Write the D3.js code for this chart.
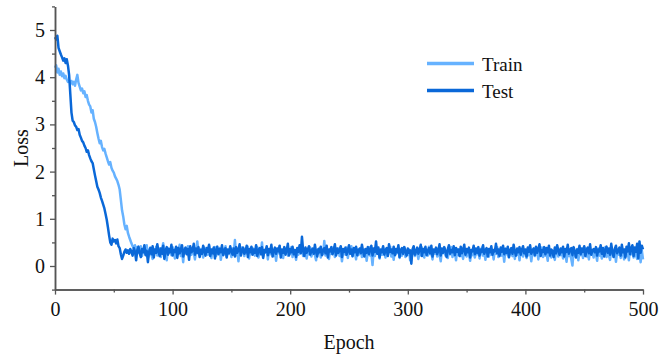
<!DOCTYPE html>
<html>
<head>
<meta charset="utf-8">
<script src="https://cdn.jsdelivr.net/npm/d3@7"></script>
<style>
  body { margin: 0; background: #fff; }
  text { font-family: "Liberation Serif", "Times New Roman", serif; fill: #111; }
</style>
</head>
<body>
<div id="container"></div>
<script>
// loss per epoch, index = epoch (0..500)
const trainLoss = [
  4.20, 4.25, 4.10, 4.18, 4.05, 4.12, 4.02, 4.08, 3.98, 4.03,
  3.95, 3.90, 3.93, 3.87, 3.92, 3.85, 3.90, 3.82, 3.95, 4.05,
  3.88, 3.80, 3.72, 3.76, 3.66, 3.70, 3.58, 3.62, 3.50, 3.42,
  3.38, 3.25, 3.30, 3.12, 3.05, 2.95, 2.82, 2.70, 2.60, 2.65,
  2.52, 2.45, 2.48, 2.38, 2.30, 2.22, 2.15, 2.20, 2.08, 2.02,
  1.98, 1.90, 1.85, 1.80, 1.72, 1.62, 1.40, 1.18, 1.05, 0.88,
  0.78, 0.85, 0.70, 0.62, 0.55, 0.48, 0.42, 0.38, 0.44, 0.35,
  0.40, 0.28, 0.33, 0.42, 0.21, 0.36, 0.30, 0.25, 0.44, 0.18,
  0.32, 0.39, 0.24, 0.15, 0.35, 0.28, 0.41, 0.22, 0.30, 0.37,
  0.19, 0.34, 0.48, 0.26, 0.31, 0.12, 0.38, 0.27, 0.33, 0.23,
  0.40, 0.29, 0.16, 0.36, 0.25, 0.32, 0.45, 0.21, 0.34, 0.08,
  0.37, 0.27, 0.31, 0.42, 0.20, 0.35, 0.24, 0.38, 0.29, 0.14,
  0.33, 0.52, 0.26, 0.22, 0.36, 0.30, 0.18, 0.39, 0.28, 0.34,
  0.24, 0.43, 0.31, 0.17, 0.35, 0.27, 0.40, 0.21, 0.33, 0.29,
  0.38, 0.13, 0.30, 0.36, 0.25, 0.42, 0.20, 0.34, 0.27, 0.31,
  0.19, 0.37, 0.28, 0.55, 0.23, 0.32, 0.10, 0.35, 0.26, 0.39,
  0.30, 0.21, 0.36, 0.27, 0.41, 0.16, 0.33, 0.25, 0.38, 0.29,
  0.22, 0.35, 0.40, 0.18, 0.31, 0.26, 0.50, 0.20, 0.34, 0.28,
  0.37, 0.14, 0.32, 0.25, 0.39, 0.29, 0.21, 0.36, 0.11, 0.33,
  0.27, 0.42, 0.24, 0.30, 0.17, 0.35, 0.28, 0.38, 0.22, 0.31,
  0.26, 0.40, 0.19, 0.34, 0.29, 0.13, 0.37, 0.24, 0.32, 0.27,
  0.41, 0.21, 0.35, 0.28, 0.16, 0.33, 0.25, 0.39, 0.20, 0.30,
  0.36, 0.23, 0.12, 0.34, 0.27, 0.38, 0.18, 0.31, 0.25, 0.53,
  0.22, 0.33, 0.28, 0.15, 0.36, 0.26, 0.30, 0.40, 0.19, 0.32,
  0.27, 0.37, 0.21, 0.34, 0.10, 0.29, 0.35, 0.24, 0.39, 0.17,
  0.31, 0.26, 0.42, 0.20, 0.33, 0.28, 0.14, 0.36, 0.23, 0.30,
  0.38, 0.19, 0.32, 0.25, 0.35, 0.11, 0.29, 0.40, 0.22, 0.27,
  0.02, 0.34, 0.21, 0.37, 0.26, 0.31, 0.16, 0.33, 0.24, 0.39,
  0.28, 0.18, 0.35, 0.23, 0.30, 0.41, 0.20, 0.32, 0.13, 0.36,
  0.25, 0.29, 0.38, 0.17, 0.33, 0.22, 0.27, 0.40, 0.19, 0.31,
  0.24, 0.35, 0.12, 0.30, 0.26, 0.37, 0.21, 0.34, 0.28, 0.15,
  0.32, 0.23, 0.39, 0.27, 0.18, 0.35, 0.30, 0.22, 0.41, 0.25,
  0.29, 0.14, 0.33, 0.26, 0.37, 0.20, 0.31, 0.24, 0.10, 0.35,
  0.27, 0.38, 0.22, 0.30, 0.17, 0.34, 0.25, 0.40, 0.19, 0.28,
  0.33, 0.12, 0.36, 0.24, 0.29, 0.21, 0.38, 0.15, 0.31, 0.26,
  0.20, 0.34, 0.28, 0.11, 0.32, 0.23, 0.37, 0.18, 0.30, 0.25,
  0.35, 0.16, 0.29, 0.39, 0.22, 0.31, 0.13, 0.34, 0.27, 0.20,
  0.36, 0.24, 0.30, 0.14, 0.33, 0.26, 0.40, 0.19, 0.28, 0.35,
  0.22, 0.31, 0.09, 0.37, 0.25, 0.29, 0.18, 0.34, 0.27, 0.21,
  0.38, 0.15, 0.32, 0.24, 0.30, 0.12, 0.36, 0.26, 0.20, 0.33,
  0.28, 0.17, 0.35, 0.23, 0.31, 0.10, 0.29, 0.37, 0.21, 0.26,
  0.34, 0.14, 0.30, 0.25, 0.39, 0.19, 0.32, 0.22, 0.28, 0.11,
  0.36, 0.24, 0.18, 0.33, 0.27, 0.13, 0.31, 0.38, 0.20, 0.29,
  0.23, 0.35, 0.16, 0.30, 0.26, 0.09, 0.34, 0.21, 0.28, 0.15,
  0.01, 0.32, 0.25, 0.19, 0.36, 0.12, 0.29, 0.23, 0.33, 0.17,
  0.27, 0.38, 0.20, 0.31, 0.14, 0.35, 0.24, 0.30, 0.18, 0.34,
  0.26, 0.11, 0.37, 0.22, 0.29, 0.16, 0.33, 0.25, 0.40, 0.19,
  0.31, 0.23, 0.13, 0.36, 0.27, 0.20, 0.34, 0.09, 0.30, 0.24,
  0.38, 0.17, 0.32, 0.26, 0.14, 0.35, 0.22, 0.29, 0.12, 0.36,
  0.25, 0.40, 0.18, 0.31, 0.23, 0.15, 0.37, 0.28, 0.08, 0.33,
  0.14
];

const testLoss = [
  4.85, 4.80, 4.88, 4.62, 4.55, 4.48, 4.42, 4.35, 4.40, 4.30,
  4.38, 4.25, 4.05, 3.65, 3.25, 3.08, 3.05, 2.98, 2.95, 2.88,
  2.90, 2.78, 2.72, 2.65, 2.62, 2.55, 2.50, 2.42, 2.45, 2.35,
  2.28, 2.22, 2.18, 2.05, 1.92, 1.80, 1.68, 1.62, 1.55, 1.45,
  1.38, 1.30, 1.22, 1.10, 0.98, 0.82, 0.65, 0.50, 0.45, 0.58,
  0.52, 0.55, 0.48, 0.56, 0.42, 0.38, 0.25, 0.15, 0.22, 0.30,
  0.35, 0.28, 0.33, 0.26, 0.36, 0.30, 0.22, 0.38, 0.31, 0.12,
  0.34, 0.41, 0.27, 0.19, 0.36, 0.29, 0.44, 0.23, 0.32, 0.08,
  0.30, 0.38, 0.25, 0.42, 0.18, 0.35, 0.28, 0.46, 0.31, 0.21,
  0.37, 0.26, 0.43, 0.15, 0.33, 0.40, 0.24, 0.36, 0.29, 0.45,
  0.22, 0.34, 0.30, 0.41, 0.17, 0.38, 0.27, 0.35, 0.44, 0.20,
  0.31, 0.39, 0.25, 0.36, 0.13, 0.42, 0.29, 0.33, 0.47, 0.24,
  0.37, 0.28, 0.40, 0.19, 0.34, 0.26, 0.43, 0.31, 0.22, 0.38,
  0.30, 0.45, 0.21, 0.35, 0.27, 0.39, 0.16, 0.33, 0.41, 0.25,
  0.36, 0.29, 0.44, 0.23, 0.32, 0.38, 0.18, 0.35, 0.27, 0.42,
  0.31, 0.24, 0.37, 0.20, 0.40, 0.28, 0.34, 0.46, 0.22, 0.33,
  0.39, 0.26, 0.31, 0.43, 0.19, 0.36, 0.29, 0.41, 0.24, 0.35,
  0.28, 0.44, 0.21, 0.33, 0.38, 0.25, 0.40, 0.17, 0.34, 0.30,
  0.42, 0.23, 0.36, 0.29, 0.45, 0.20, 0.32, 0.39, 0.26, 0.37,
  0.31, 0.43, 0.18, 0.35, 0.28, 0.40, 0.24, 0.33, 0.47, 0.22,
  0.36, 0.29, 0.41, 0.25, 0.34, 0.19, 0.38, 0.30, 0.44, 0.27,
  0.62, 0.33, 0.21, 0.39, 0.28, 0.35, 0.42, 0.24, 0.31, 0.37,
  0.26, 0.45, 0.30, 0.20, 0.36, 0.29, 0.41, 0.23, 0.34, 0.38,
  0.27, 0.43, 0.18, 0.35, 0.31, 0.40, 0.25, 0.33, 0.46, 0.22,
  0.37, 0.28, 0.34, 0.42, 0.19, 0.36, 0.30, 0.39, 0.24, 0.32,
  0.44, 0.26, 0.35, 0.21, 0.38, 0.29, 0.41, 0.23, 0.33, 0.37,
  0.27, 0.45, 0.31, 0.20, 0.36, 0.28, 0.40, 0.25, 0.34, 0.43,
  0.22, 0.37, 0.30, 0.52, 0.26, 0.39, 0.18, 0.35, 0.29, 0.42,
  0.24, 0.33, 0.38, 0.21, 0.46, 0.30, 0.35, 0.27, 0.41, 0.23,
  0.36, 0.29, 0.44, 0.19, 0.34, 0.38, 0.26, 0.40, 0.31, 0.22,
  0.37, 0.28, 0.33, 0.05, 0.35, 0.42, 0.24, 0.30, 0.39, 0.26,
  0.34, 0.45, 0.21, 0.36, 0.29, 0.41, 0.23, 0.32, 0.38, 0.27,
  0.43, 0.20, 0.35, 0.30, 0.39, 0.25, 0.33, 0.46, 0.22, 0.37,
  0.28, 0.40, 0.31, 0.19, 0.36, 0.44, 0.26, 0.34, 0.29, 0.42,
  0.23, 0.38, 0.30, 0.35, 0.21, 0.41, 0.27, 0.33, 0.45, 0.24,
  0.36, 0.29, 0.39, 0.18, 0.34, 0.31, 0.43, 0.25, 0.37, 0.28,
  0.40, 0.22, 0.35, 0.30, 0.44, 0.26, 0.33, 0.38, 0.20, 0.36,
  0.29, 0.42, 0.24, 0.34, 0.31, 0.47, 0.27, 0.35, 0.21, 0.39,
  0.30, 0.43, 0.25, 0.36, 0.28, 0.41, 0.19, 0.33, 0.38, 0.26,
  0.45, 0.31, 0.22, 0.37, 0.29, 0.40, 0.24, 0.34, 0.42, 0.27,
  0.35, 0.20, 0.39, 0.30, 0.44, 0.26, 0.33, 0.37, 0.23, 0.41,
  0.28, 0.36, 0.46, 0.21, 0.34, 0.30, 0.40, 0.25, 0.38, 0.29,
  0.43, 0.22, 0.35, 0.31, 0.19, 0.39, 0.27, 0.44, 0.33, 0.24,
  0.37, 0.29, 0.41, 0.20, 0.36, 0.30, 0.45, 0.26, 0.34, 0.38,
  0.23, 0.40, 0.31, 0.18, 0.35, 0.28, 0.43, 0.25, 0.37, 0.30,
  0.42, 0.21, 0.34, 0.39, 0.27, 0.46, 0.24, 0.33, 0.36, 0.29,
  0.40, 0.22, 0.35, 0.31, 0.44, 0.26, 0.38, 0.20, 0.34, 0.41,
  0.28, 0.37, 0.24, 0.47, 0.30, 0.19, 0.36, 0.43, 0.27, 0.33,
  0.39, 0.22, 0.45, 0.29, 0.35, 0.18, 0.41, 0.31, 0.48, 0.25,
  0.37, 0.44, 0.21, 0.39, 0.30, 0.47, 0.16, 0.52, 0.28, 0.43,
  0.35
];

const seriesNames = ['Train', 'Test'];
const seriesColors = ['#66b2ff', '#0a68d8'];
const xTicks = [0, 100, 200, 300, 400, 500];
const xMinorTicks = [50, 150, 250, 350, 450];
const yTicks = [0, 1, 2, 3, 4, 5];
const yMinorTicks = [-0.5, 0.5, 1.5, 2.5, 3.5, 4.5, 5.5];

const W = 659, H = 358;
const svg = d3.select('#container')
  .append('svg')
  .attr('width', W)
  .attr('height', H);

var xScale = d3.scaleLinear().domain([0, 500]).range([55, 643]);
var yScale = d3.scaleLinear().domain([-0.5, 5.5]).range([289.6, 6.4]);

var line = d3.line()
  .x(function (d, i) { return xScale(i); })
  .y(function (d) { return yScale(d); });

[trainLoss, testLoss].forEach(function (s, k) {
  svg.append('path')
    .datum(s)
    .attr('fill', 'none')
    .attr('stroke', seriesColors[k])
    .attr('stroke-width', 2.5)
    .attr('stroke-linejoin', 'round')
    .attr('d', line);
});

// axes
function styleAxis(g) {
  g.selectAll('.domain').attr('stroke', '#555').attr('stroke-width', 1.5);
  g.selectAll('.tick line').attr('stroke', '#555').attr('stroke-width', 1.3);
  g.selectAll('.tick text')
    .style('font-family', '"Liberation Serif", serif')
    .style('font-size', '20px')
    .attr('fill', '#111');
}

svg.append('g')
  .attr('transform', 'translate(0,' + yScale(-0.5) + ')')
  .call(d3.axisBottom(xScale).tickValues(xMinorTicks).tickSize(3).tickFormat('').tickSizeOuter(0))
  .call(styleAxis);

svg.append('g')
  .attr('transform', 'translate(55,0)')
  .call(d3.axisLeft(yScale).tickValues(yMinorTicks).tickSize(3).tickFormat('').tickSizeOuter(0))
  .call(styleAxis);

svg.append('g')
  .attr('transform', 'translate(0,' + yScale(-0.5) + ')')
  .call(d3.axisBottom(xScale).tickValues(xTicks).tickSize(5).tickPadding(7).tickSizeOuter(0))
  .call(styleAxis);

svg.append('g')
  .attr('transform', 'translate(55,0)')
  .call(d3.axisLeft(yScale).tickValues(yTicks).tickSize(5).tickPadding(5).tickFormat(d3.format('d')).tickSizeOuter(0))
  .call(styleAxis);

// axis titles
svg.append('text')
  .attr('x', (xScale(0) + xScale(500)) / 2)
  .attr('y', 349)
  .attr('text-anchor', 'middle')
  .style('font-size', '20px')
  .text('Epoch');

svg.append('text')
  .attr('transform', 'translate(28,' + yScale(2.5) + ') rotate(-90)')
  .attr('text-anchor', 'middle')
  .style('font-size', '20px')
  .text('Loss');

// legend
var legend = svg.append('g')
  .selectAll('g')
  .data(seriesNames)
  .enter()
  .append('g')
  .attr('transform', function (d, i) { return 'translate(427,' + (63.5 + i * 27) + ')'; });

legend.append('line')
  .attr('x1', 0)
  .attr('x2', 47)
  .attr('stroke', function (d, i) { return seriesColors[i]; })
  .attr('stroke-width', 3.5);

legend.append('text')
  .attr('x', 55)
  .attr('y', 7)
  .style('font-size', '19px')
  .text(function (d) { return d; });
</script>
</body>
</html>
